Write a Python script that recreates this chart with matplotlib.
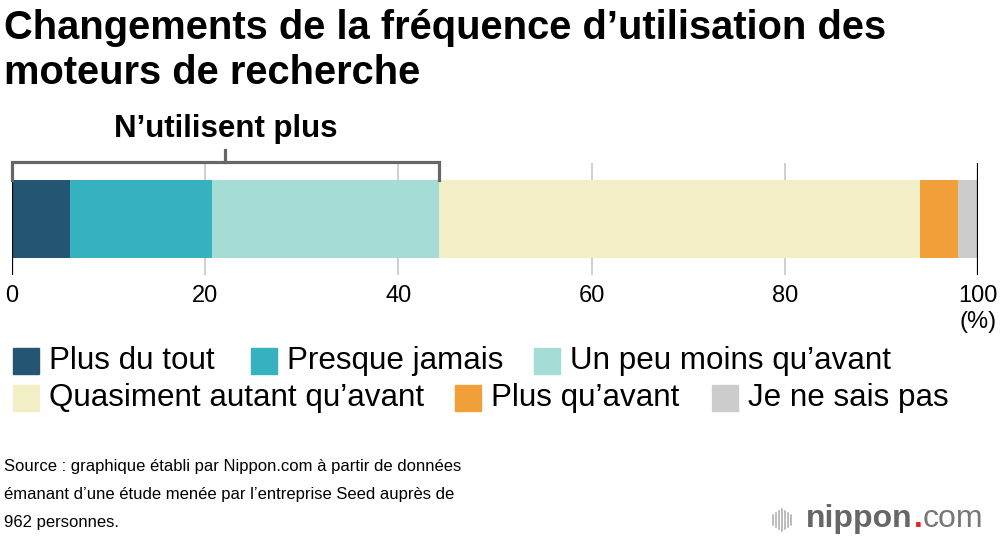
import matplotlib.pyplot as plt
from matplotlib.patches import Rectangle

plt.rcParams['font.family'] = ['Liberation Sans', 'DejaVu Sans']

categories = ["Plus du tout", "Presque jamais", "Un peu moins qu\u2019avant",
              "Quasiment autant qu\u2019avant", "Plus qu\u2019avant", "Je ne sais pas"]
values = [6.0, 14.7, 23.5, 49.8, 3.9, 2.1]
colors = ["#245674", "#35b1c0", "#a5ddd6", "#f2eec5", "#f19f38", "#cccccc"]
ticks = [0, 20, 40, 60, 80, 100]
bracket_n = 3  # first three categories grouped as "N'utilisent plus"

W, H = 1000, 542
fig = plt.figure(figsize=(W / 100, H / 100), dpi=100)


def px(x, y):
    return x / W, 1 - y / H


# axes from x=12..978, y=163..275 (pixels from top)
ax = fig.add_axes([12 / W, 1 - 275 / H, 966 / W, 112 / H])
ax.set_xlim(0, 100)
ax.set_ylim(0, 1)
for s in ax.spines.values():
    s.set_visible(False)
ax.set_yticks([])

for t in ticks:
    if t in (0, 100):
        ax.axvline(t, color="black", lw=1.6, zorder=3)
    else:
        ax.axvline(t, color="#cccccc", lw=1.3, zorder=0)

left = 0
for v, c in zip(values, colors):
    ax.barh(0.5, v, left=left, height=0.696, color=c, zorder=2)
    left += v

ax.set_xticks(ticks)
ax.set_xticklabels([str(t) for t in ticks], fontsize=17)
ax.tick_params(axis="x", length=0, pad=7)

# bracket
bx = sum(values[:bracket_n])
yb = 1.009
ax.plot([0, 0, bx, bx], [0.848, yb, yb, 0.848], color="#666666", lw=2.3,
        clip_on=False, solid_joinstyle="miter", zorder=4)
ax.plot([bx / 2, bx / 2], [yb, 1.116], color="#666666", lw=2.3, clip_on=False)
ax.text(bx / 2, 1.30, "N\u2019utilisent plus", ha="center", va="center",
        fontsize=22.5, fontweight="bold", clip_on=False)

fig.text(*px(978, 322), "(%)", ha="center", va="center", fontsize=17)

# title
fig.text(*px(4, 28), "Changements de la fréquence d\u2019utilisation des", fontsize=28.7,
         fontweight="bold", va="center", ha="left")
fig.text(*px(4, 73), "moteurs de recherche", fontsize=28.7,
         fontweight="bold", va="center", ha="left")

# legend
legend_pos = [(13, 361), (251, 361), (534, 361), (13, 398), (455, 398), (712, 398)]
for (lx, ly), name, c in zip(legend_pos, categories, colors):
    fig.patches.append(Rectangle(px(lx, ly + 13), 26 / W, 26 / H, color=c,
                                 transform=fig.transFigure))
    fig.text(*px(lx + 36, ly), name, fontsize=22.6, va="center", ha="left")

# source
src = ["Source : graphique établi par Nippon.com à partir de données",
       "émanant d\u2019une étude menée par l\u2019entreprise Seed auprès de",
       "962 personnes."]
for i, line in enumerate(src):
    fig.text(*px(4, 467 + i * 27.5), line, fontsize=12.0, va="center", ha="left")

# logo
for i, h in enumerate([10, 14, 18, 22, 18, 14, 10]):
    x0 = 773 + i * 3
    fig.add_artist(plt.Line2D([x0 / W, x0 / W], [1 - (520 - h / 2) / H, 1 - (520 + h / 2) / H],
                              color="#aaaaaa", lw=1.1, transform=fig.transFigure))
r = fig.canvas.get_renderer()
t1 = fig.text(*px(806, 519), "nippon", fontsize=23, fontweight="bold", color="#666666",
              va="center", ha="left")
x1 = t1.get_window_extent(r).x1
t2 = fig.text(x1 / W + 0.001, 1 - 519 / H, ".", fontsize=23, fontweight="bold",
              color="#e8202a", va="center", ha="left")
x2 = t2.get_window_extent(r).x1
fig.text(x2 / W, 1 - 519 / H, "com", fontsize=23, color="#777777", va="center", ha="left")

fig.savefig("out.png", dpi=100)
